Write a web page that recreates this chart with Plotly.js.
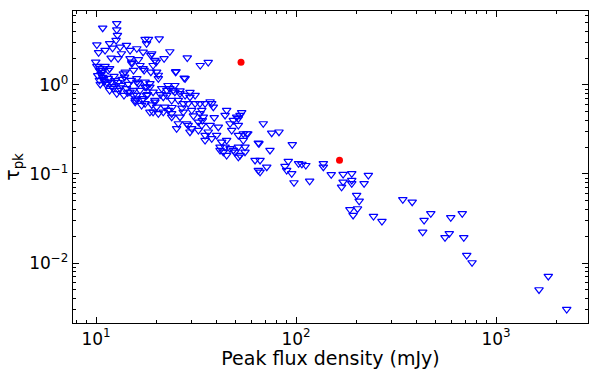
<!DOCTYPE html>
<html>
<head>
<meta charset="utf-8">
<script src="https://cdn.plot.ly/plotly-3.0.1.min.js"></script>
<style>html,body{margin:0;padding:0;background:#fff;}#chart{width:589px;height:369px;}</style>
</head>
<body>
<div id="chart"></div>
<script>
// Upper-limit sources (open downward triangles): peak flux density (mJy), tau_pk
var limitFlux = [
 10.8,12.7,12.7,12.8,12.6,10.1,11.7,12.1,10.3,11.1,13.2,13.4,14.2,14.8,16.0,17.2,17.6,18.3,17.9,20.7,
 19.0,19.7,21.9,23.4,28.6,33.2,36.4,11.9,12.9,15.1,16.6,17.2,19.3,9.97,10.5,10.8,11.1,11.5,10.7,11.7,
 14.0,13.9,15.4,16.0,20.1,20.5,25.0,27.6,14.8,15.1,16.3,18.8,20.0,17.4,18.8,20.5,25.1,27.9,13.7,
 10.1,10.4,10.6,10.8,10.4,11.0,11.2,10.5,11.5,11.9,12.2,12.7,13.4,14.2,14.8,15.4,15.7,16.3,17.6,18.6,
 17.9,19.3,19.7,12.9,13.5,12.3,11.7,13.0,13.8,14.5,15.0,16.6,17.0,16.0,17.6,18.6,15.4,16.0,17.2,15.7,
 16.9,17.6,17.9,21.3,23.4,24.8,26.3,27.9,29.5,21.7,22.6,23.9,25.8,27.3,28.9,31.3,33.1,35.1,37.9,19.7,
 20.1,19.3,18.6,20.5,21.7,22.1,23.0,23.9,23.9,26.3,27.3,30.1,33.8,33.1,34.4,32.5,33.8,37.2,38.6,45.0,
 44.2,50.5,52.5,48.6,46.8,51.5,47.7,54.5,56.7,37.2,40.9,36.4,40.1,37.9,28.9,30.1,32.5,29.5,28.4,35.1,
 35.1,42.5,45.0,41.7,43.3,46.8,51.5,55.6,49.5,52.5,25.8,25.3,22.6,24.3,26.3,29.5,31.3,22.9,24.8,
 53.5,51.5,68.6,75.6,82.2,57.4,54.5,51.5,64.8,74.1,95.8,44.2,41.7,45.0,48.6,51.5,55.6,62.4,66.1,64.8,
 71.4,65.3,66.1,
 91.5,88.1,89.8,95.2,97.7,103,107,112,117,137,137,150,172,172,169,190,190,190,230,219,
 201,207,203,186,193,244,269,342,381,472,437,430,594,584,556,678,690,714,759,1826,1641,2257,
 10.2,10.9,11.4,12.0,12.5,13.1,14.4,15.9,18.1,19.0,21.0,24.0,26.9,30.7,34.0,39.0
];
var limitTau = [
 4.37,4.90,4.17,3.62,3.18,2.83,2.92,2.60,2.31,2.45,2.67,2.25,2.79,2.45,2.56,2.35,3.26,3.26,2.92,3.30,
 2.25,1.90,1.98,2.37,2.02,1.66,1.80,2.01,1.98,1.81,1.66,1.53,1.66,1.81,1.54,1.46,1.62,1.46,1.39,1.53,
 1.40,1.23,1.46,1.18,1.40,1.18,1.40,1.20,1.98,1.74,1.93,2.16,1.81,1.46,1.40,1.29,1.42,1.18,1.34,
 1.62,1.46,1.32,1.22,1.13,1.10,1.02,1.02,1.19,1.07,0.918,0.80,0.99,0.911,0.834,0.766,0.673,1.04,0.95,0.95,
 0.766,0.834,0.673,1.07,1.16,1.25,0.872,0.872,0.766,1.02,1.13,0.872,0.673,1.08,1.08,1.04,0.872,0.766,0.703,0.644,
 0.591,0.618,0.95,0.911,0.911,0.834,0.80,0.766,0.733,0.733,0.766,0.673,0.673,0.618,0.618,0.618,0.618,0.618,0.618,0.644,
 0.566,0.497,0.497,0.477,0.497,0.566,0.52,0.477,0.437,0.437,0.497,0.52,0.52,0.477,0.437,0.384,0.352,0.65,0.566,0.52,
 0.457,0.437,0.457,0.401,0.368,0.352,0.31,0.284,0.284,0.352,0.338,0.297,0.272,0.25,0.352,0.324,0.31,0.297,0.368,0.272,
 0.239,0.229,0.239,0.201,0.177,0.193,0.201,0.201,0.177,0.162,0.368,0.324,0.872,0.872,0.861,0.828,0.766,0.99,0.99,
 0.49,0.419,0.368,0.289,0.297,0.284,0.239,0.272,0.223,0.185,0.214,0.201,0.185,0.162,0.185,0.155,0.177,0.143,0.143,0.110,
 0.12,0.22,0.105,
 0.139,0.122,0.110,0.101,0.080,0.131,0.129,0.125,0.0834,0.131,0.12,0.0985,0.0992,0.0813,0.0714,0.101,0.085,0.078,0.0967,0.078,
 0.0577,0.0497,0.0408,0.0398,0.0344,0.0335,0.0294,0.0516,0.0485,0.0359,0.0302,0.0223,0.0324,0.0214,0.0193,0.0359,0.0193,0.0122,0.0101,0.0071,0.00502,0.00302,
 1.28,1.16,1.05,0.96,1.12,0.93,0.82,0.70,0.78,0.60,0.78,0.56,0.55,0.45,0.40,0.43
];
// Detections (filled red circles)
var detFlux = [53.1, 165];
var detTau = [1.80, 0.143];

// Tick labels
var xTickVals = [10, 100, 1000];
var xTickText = ['10<sup>1</sup>', '10<sup>2</sup>', '10<sup>3</sup>'];
var yTickVals = [0.01, 0.1, 1];
var yTickText = ['10<sup>\u22122</sup>', '10<sup>\u22121</sup>', '10<sup>0</sup>'];

function minorVals(lo, hi) {
  var v = [];
  for (var e = lo; e <= hi; e++) for (var m = 2; m <= 9; m++) v.push(m * Math.pow(10, e));
  return v;
}

var traces = [
  {x: limitFlux, y: limitTau, type: 'scatter', mode: 'markers',
   marker: {symbol: 'triangle-down-open', size: 7.5, color: '#0000ff', line: {width: 1.2, color: '#0000ff'}}},
  {x: detFlux, y: detTau, type: 'scatter', mode: 'markers',
   marker: {symbol: 'circle', size: 7, color: '#ff0000', line: {width: 0}}}
];

var tf = {family: 'DejaVu Sans, sans-serif', size: 17, color: '#000'};
var layout = {
  width: 589, height: 369,
  margin: {l: 73, r: 1, t: 11, b: 46, pad: 0},
  paper_bgcolor: '#fff', plot_bgcolor: '#fff',
  showlegend: false,
  font: tf,
  xaxis: {
    type: 'log', range: [0.885, 3.46],
    tickmode: 'array', tickvals: xTickVals, ticktext: xTickText,
    ticks: 'inside', ticklen: 6, tickwidth: 1, tickcolor: '#000',
    minor: {tickvals: minorVals(0, 3), ticks: 'inside', ticklen: 3, tickwidth: 1, tickcolor: '#000', showgrid: false},
    showline: true, linecolor: '#000', linewidth: 1.2, mirror: 'allticks',
    showgrid: false, zeroline: false,
    tickfont: tf,
    title: {text: 'Peak flux density (mJy)', font: {family: 'DejaVu Sans, sans-serif', size: 19, color: '#000'}, standoff: 1}
  },
  yaxis: {
    type: 'log', range: [-2.674, 0.831],
    tickmode: 'array', tickvals: yTickVals, ticktext: yTickText,
    ticks: 'inside', ticklen: 6, tickwidth: 1, tickcolor: '#000',
    minor: {tickvals: minorVals(-3, 0), ticks: 'inside', ticklen: 3, tickwidth: 1, tickcolor: '#000', showgrid: false},
    showline: true, linecolor: '#000', linewidth: 1.2, mirror: 'allticks',
    showgrid: false, zeroline: false,
    tickfont: tf,
    title: {text: '\u03c4<sub>pk</sub>', font: {family: 'DejaVu Sans, sans-serif', size: 19, color: '#000'}, standoff: 4}
  }
};

Plotly.newPlot('chart', traces, layout, {staticPlot: true, displayModeBar: false});
</script>
</body>
</html>
